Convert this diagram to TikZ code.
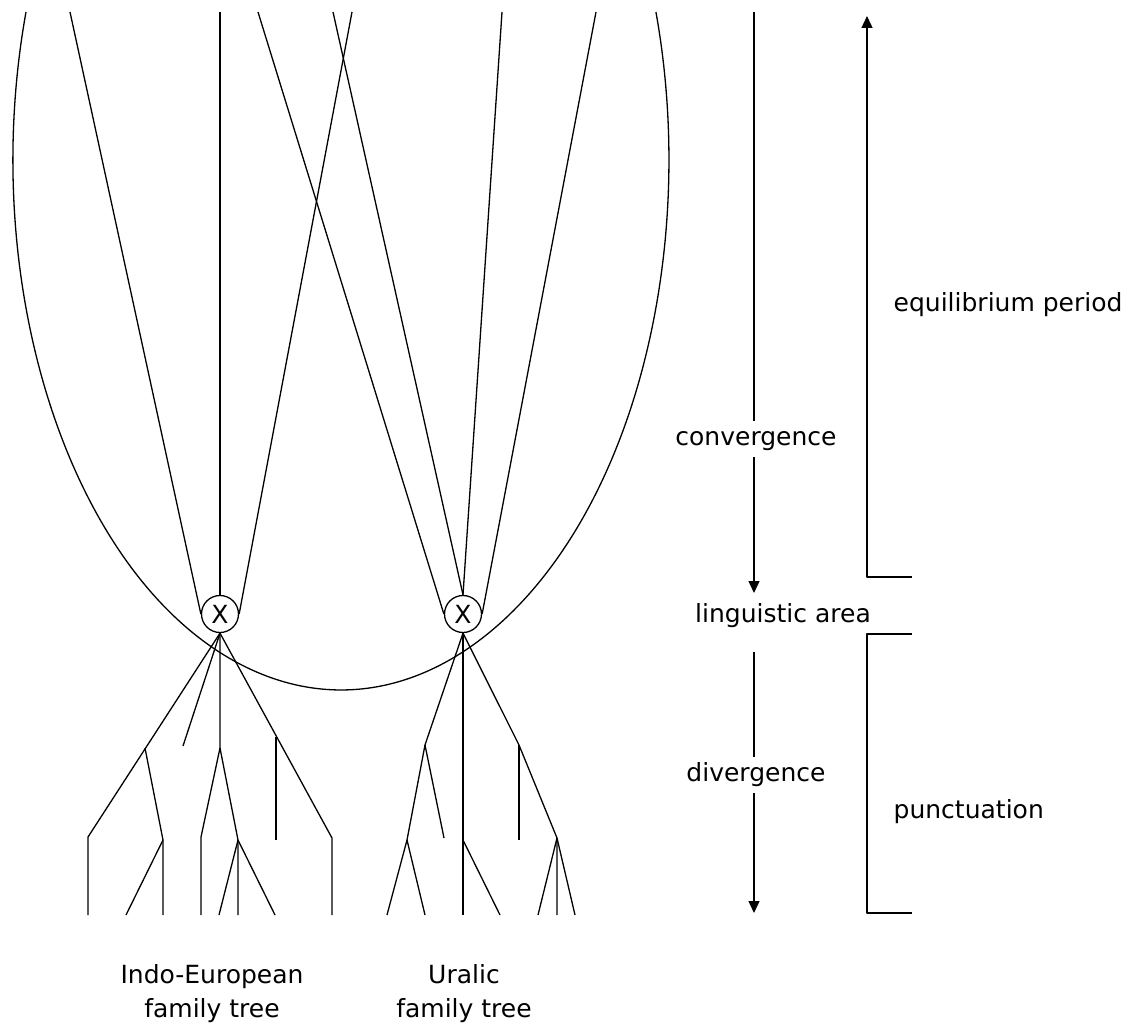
\documentclass[tikz,border=0pt]{standalone}
\usepackage{fontspec}
\setmainfont{DejaVu Sans}
\usetikzlibrary{arrows.meta}
\begin{document}
\begin{tikzpicture}[
        x=1pt, y=-1pt,
        line width=1.3pt, line join=round,
        xnode/.style={circle, draw, fill=white, minimum size=37pt, inner sep=0pt},
        arr/.style={-{Triangle[width=11pt, length=12pt]}},
        lbl/.style={fill=white, inner sep=6pt, text height=18pt, text depth=6pt, anchor=base},
        every node/.style={font=\fontsize{25}{34}\selectfont}
        ]
      \useasboundingbox (0,0) rectangle (1148,1030);
      \node[xnode] (ie) at (220,614) {X};
      \node[xnode] (ur) at (463,614) {X};
      \coordinate (arcL) at (26,12);
      \draw (arcL) arc[start angle=196.2, end angle=-16.2, x radius=328, y radius=530];
      \coordinate (t1) at (70,12);
      \coordinate (t2) at (220,12);
      \coordinate (t3) at (258,12);
      \coordinate (t4) at (333,12);
      \coordinate (t5) at (352,12);
      \coordinate (t6) at (502,12);
      \coordinate (t7) at (596,12);
      \draw (t1) -- (ie.west);
      \draw (t2) -- (ie.north);
      \draw (t5) -- (ie.east);
      \draw (t3) -- (ur.west);
      \draw (t4) -- (ur.north);
      \draw (t6) -- (ur.north);
      \draw (t7) -- (ur.east);
      \foreach \x [count=\i] in {88,126,163,201,219,238,275,332}
        \coordinate (pl\i) at (\x,915);
      \foreach \x [count=\i] in {387,425,463,500,538,557,575}
        \coordinate (ql\i) at (\x,915);
      \coordinate (p1) at (145,748);
      \coordinate (p2) at (88,837);
      \coordinate (p3) at (163,840);
      \coordinate (p4) at (183,746);
      \coordinate (p5) at (220,748);
      \coordinate (p6) at (201,837);
      \coordinate (p7) at (238,840);
      \coordinate (p8) at (276,737);
      \coordinate (p9) at (332,838);
      \coordinate (p10) at (276,840);
      \draw (ie.south) -- (p2) -- (pl1);
      \draw (p1) -- (p3) -- (pl3);
      \draw (p3) -- (pl2);
      \draw (ie.south) -- (p4);
      \draw (ie.south) -- (p5) -- (p6) -- (pl4);
      \draw (p5) -- (p7) -- (pl6);
      \draw (p7) -- (pl5);
      \draw (p7) -- (pl7);
      \draw (ie.south) -- (p9) -- (pl8);
      \draw (p8) -- (p10);
      \coordinate (q1) at (425,745);
      \coordinate (q2) at (407,840);
      \coordinate (q3) at (444,838);
      \coordinate (q4) at (463,840);
      \coordinate (q5) at (519,745);
      \coordinate (q6) at (557,838);
      \coordinate (q7) at (519,840);
      \draw (ur.south) -- (q1) -- (q2) -- (ql1);
      \draw (q2) -- (ql2);
      \draw (q1) -- (q3);
      \draw (ur.south) -- (ql3);
      \draw (q4) -- (ql4);
      \draw (ur.south) -- (q5) -- (q6) -- (ql6);
      \draw (q6) -- (ql5);
      \draw (q6) -- (ql7);
      \draw (q5) -- (q7);
      \coordinate (c1) at (754,12);
      \coordinate (c2) at (754,593);
      \coordinate (d1) at (754,652);
      \coordinate (d2) at (754,913);
      \draw[arr] (c1) -- (c2);
      \draw[arr] (d1) -- (d2);
      \node[lbl] (conv) at (756,445) {convergence};
      \node[lbl] (div) at (756,781) {divergence};
      \node[anchor=base] (la) at (783,622) {linguistic area};
      \coordinate (e1) at (912,577);
      \coordinate (e2) at (867,577);
      \coordinate (e3) at (867,16);
      \draw[arr] (e1) -- (e2) -- (e3);
      \coordinate (f1) at (912,634);
      \coordinate (f2) at (867,634);
      \coordinate (f3) at (867,913);
      \coordinate (f4) at (912,913);
      \draw (f1) -- (f2) -- (f3) -- (f4);
      \node[anchor=base west, inner sep=0pt] (eq) at (893,311) {equilibrium period};
      \node[anchor=base west, inner sep=0pt] (pu) at (893,818) {punctuation};
      \node[align=center] (ieLbl) at (212,994) {Indo-European\\family tree};
      \node[align=center] (urLbl) at (464,994) {Uralic\\family tree};
    \end{tikzpicture}
\end{document}
